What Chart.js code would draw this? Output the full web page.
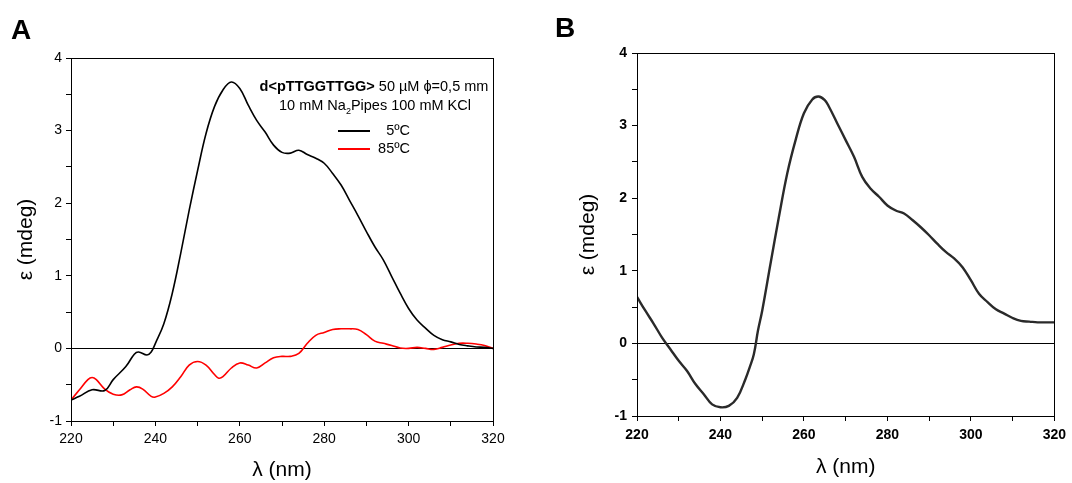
<!DOCTYPE html>
<html>
<head>
<meta charset="utf-8">
<script src="https://cdn.jsdelivr.net/npm/chart.js@4/dist/chart.umd.min.js"></script>
<style>
  body { margin: 0; background: #fff; }
  #wrap { position: relative; width: 1072px; height: 483px; }
  canvas { position: absolute; top: 0; }
</style>
</head>
<body>
<div id="wrap">
  <canvas id="chartA" width="540" height="483" style="left:0"></canvas>
  <canvas id="chartB" width="532" height="483" style="left:540px"></canvas>
</div>
<script>
// Panel A: d<pTTGGTTGG>, CD at 5ºC and 85ºC
var wavelengthA = [220, 222, 225, 228, 230, 233, 235, 236, 238, 239, 240, 242, 244, 246, 248, 250, 252, 254, 256, 258,
  260, 262, 264, 266, 268, 270, 272, 274, 276, 278, 280, 282, 284, 286, 288, 290, 292, 294, 296, 298,
  300, 302, 304, 306, 308, 310, 312, 314, 316, 318, 320];
var cd5C = [-0.71, -0.66, -0.57, -0.58, -0.43, -0.25, -0.08, -0.05, -0.09, -0.05, 0.07, 0.34, 0.76, 1.31, 1.90, 2.45, 2.96, 3.33, 3.56, 3.67,
  3.58, 3.35, 3.14, 2.98, 2.80, 2.70, 2.69, 2.73, 2.67, 2.62, 2.55, 2.41, 2.25, 2.04, 1.83, 1.61, 1.40, 1.22, 0.99, 0.76,
  0.55, 0.39, 0.28, 0.18, 0.12, 0.09, 0.055, 0.035, 0.02, 0.015, 0];

var wavelengthA85 = [220, 222, 224, 225, 226, 228, 230, 232, 234, 235.5, 237, 239, 240, 242, 244, 246, 248, 250, 252, 254, 255, 256, 258,
  260, 262, 264, 266, 268, 270, 272, 274, 276, 278, 280, 282, 284, 286, 288, 290, 292, 294, 296, 298,
  300, 302, 304, 306, 308, 310, 312, 314, 316, 318, 320];
var cd85C = [-0.71, -0.57, -0.43, -0.40, -0.43, -0.56, -0.63, -0.64, -0.57, -0.53, -0.56, -0.66, -0.67, -0.62, -0.53, -0.39, -0.23, -0.18, -0.23, -0.36, -0.41, -0.39, -0.27,
  -0.20, -0.23, -0.27, -0.20, -0.13, -0.11, -0.11, -0.07, 0.07, 0.18, 0.22, 0.26, 0.27, 0.27, 0.26, 0.19, 0.10, 0.07, 0.04, 0.005,
  0.0, 0.014, 0.0, -0.014, 0.014, 0.046, 0.07, 0.07, 0.06, 0.04, 0];

// Panel B
var wavelengthB = [220, 222, 224, 226, 228, 230, 232, 234, 236, 238, 240, 242, 244, 246, 247, 248, 249, 250, 252, 254, 256, 258,
  260, 262, 263.5, 265, 266, 268, 270, 272, 274, 276, 278, 280, 282, 284, 286, 288, 290, 292, 294, 296, 298,
  300, 302, 304, 306, 308, 310, 312, 314, 316, 318, 320];
var cdB = [0.64, 0.45, 0.27, 0.08, -0.08, -0.24, -0.38, -0.56, -0.70, -0.84, -0.88, -0.86, -0.75, -0.49, -0.33, -0.15, 0.18, 0.45, 1.10, 1.74, 2.34, 2.80,
  3.17, 3.36, 3.40, 3.35, 3.26, 3.03, 2.80, 2.57, 2.29, 2.13, 2.02, 1.90, 1.83, 1.79, 1.70, 1.60, 1.49, 1.37, 1.26, 1.17, 1.05,
  0.87, 0.68, 0.57, 0.47, 0.41, 0.35, 0.31, 0.30, 0.29, 0.29, 0.29];

var xTickLabels = [220, 240, 260, 280, 300, 320];
var yTickLabels = [-1, 0, 1, 2, 3, 4];

function pairs(xs, ys) {
  return xs.map(function (x, i) { return { x: x, y: ys[i] }; });
}

var FONT = "'Liberation Sans', Arial, sans-serif";

// full box around the plot + panel letter
var boxPlugin = {
  id: 'box',
  afterDatasetsDraw: function (chart, args, opts) {
    var a = chart.chartArea, c = chart.ctx;
    c.save();
    c.strokeStyle = '#000';
    c.lineWidth = 1;
    c.strokeRect(Math.round(a.left) + 0.5, Math.round(a.top) + 0.5, Math.round(a.right - a.left), Math.round(a.bottom - a.top));
    c.fillStyle = '#000';
    c.font = 'bold 28px ' + FONT;
    c.textBaseline = 'alphabetic';
    c.fillText(opts.letter, opts.lx, opts.ly);
    c.restore();
  }
};

// legend + sample description of panel A
var noteA = {
  id: 'noteA',
  afterDraw: function (chart) {
    var c = chart.ctx, fs = '14.5px ';
    c.save();
    c.fillStyle = '#000';
    c.textBaseline = 'middle';
    // first line: bold name + regular
    var b1 = 'd<pTTGGTTGG>', r1 = ' 50 \u00b5M \u03d5=0,5 mm';
    c.font = 'bold ' + fs + FONT;
    var wb = c.measureText(b1).width;
    c.font = fs + FONT;
    var wr = c.measureText(r1).width;
    var x0 = 374 - (wb + wr) / 2;
    c.font = 'bold ' + fs + FONT;
    c.fillText(b1, x0, 87);
    c.font = fs + FONT;
    c.fillText(r1, x0 + wb, 87);
    // second line with subscript
    var p1 = '10 mM Na', sub = '2', p2 = 'Pipes 100 mM KCl';
    var w1 = c.measureText(p1).width, w3 = c.measureText(p2).width;
    c.font = '9px ' + FONT;
    var w2 = c.measureText(sub).width;
    x0 = 375 - (w1 + w2 + w3) / 2;
    c.font = fs + FONT;
    c.fillText(p1, x0, 106);
    c.font = '9px ' + FONT;
    c.fillText(sub, x0 + w1, 112);
    c.font = fs + FONT;
    c.fillText(p2, x0 + w1 + w2, 106);
    // legend entries
    var ys = [131, 149];
    chart.data.datasets.forEach(function (ds, i) {
      c.strokeStyle = ds.borderColor;
      c.lineWidth = 2;
      c.beginPath();
      c.moveTo(338, ys[i]);
      c.lineTo(370, ys[i]);
      c.stroke();
      c.textAlign = 'right';
      c.fillText(ds.label, 410, ys[i]);
    });
    c.restore();
  }
};

function scales(opt) {
  return {
    x: {
      type: 'linear',
      min: 220, max: 320,
      afterFit: function (s) { s.height = opt.xh; },
      border: { color: '#000', width: 1 },
      grid: { drawOnChartArea: false, tickColor: '#000', tickLength: 5 },
      ticks: {
        stepSize: 10, color: '#000', padding: opt.xpad, maxRotation: 0, autoSkip: false,
        font: { family: FONT, size: 14, weight: opt.tw },
        callback: function (v) { return xTickLabels.indexOf(v) >= 0 ? String(v) : ''; }
      },
      title: { display: true, text: '\u03bb (nm)', color: '#000', font: { family: FONT, size: 21 }, padding: { top: 0, bottom: opt.xtb } }
    },
    y: {
      min: -1, max: 4,
      afterFit: function (s) { s.width = opt.yw; },
      border: { color: '#000', width: 1 },
      grid: {
        tickColor: '#000', tickLength: 5,
        color: function (ctx) { return ctx.tick && ctx.tick.value === 0 ? '#000' : 'rgba(0,0,0,0)'; }
      },
      ticks: {
        stepSize: 0.5, color: '#000', padding: opt.ypad,
        font: { family: FONT, size: 14, weight: opt.tw },
        callback: function (v) { return yTickLabels.indexOf(v) >= 0 ? String(v) : ''; }
      },
      title: { display: true, text: '\u03b5 (mdeg)', color: '#000', font: { family: FONT, size: 21 }, padding: { top: opt.ytp, bottom: 0 } }
    }
  };
}

var chartA = new Chart(document.getElementById('chartA'), {
  type: 'line',
  data: {
    datasets: [
      { label: '5\u00baC', data: pairs(wavelengthA, cd5C), borderColor: '#000', borderWidth: 1.6, pointRadius: 0, tension: 0.4, fill: false },
      { label: '85\u00baC', data: pairs(wavelengthA85, cd85C), borderColor: '#ff0000', borderWidth: 1.6, pointRadius: 0, tension: 0.4, fill: false }
    ]
  },
  options: {
    responsive: false,
    animation: false,
    layout: { padding: { top: 58, right: 47, left: 0, bottom: 0 } },
    plugins: { legend: { display: false }, tooltip: { enabled: false }, box: { letter: 'A', lx: 11, ly: 39 } },
    scales: scales({ xh: 62, xpad: 5, xtb: 0, yw: 71, ytp: 14, ypad: 4, tw: 'normal' })
  },
  plugins: [boxPlugin, noteA]
});

var chartB = new Chart(document.getElementById('chartB'), {
  type: 'line',
  data: {
    datasets: [
      { label: 'CD', data: pairs(wavelengthB, cdB), borderColor: '#2a2a2a', borderWidth: 2.4, pointRadius: 0, tension: 0.4, fill: false }
    ]
  },
  options: {
    responsive: false,
    animation: false,
    layout: { padding: { top: 53, right: 13, left: 0, bottom: 0 } },
    plugins: { legend: { display: false }, tooltip: { enabled: false }, box: { letter: 'B', lx: 15, ly: 37 } },
    scales: scales({ xh: 67, xpad: 6, xtb: 3, yw: 97, ytp: 36, ypad: 5, tw: 'bold' })
  },
  plugins: [boxPlugin]
});
</script>
</body>
</html>
